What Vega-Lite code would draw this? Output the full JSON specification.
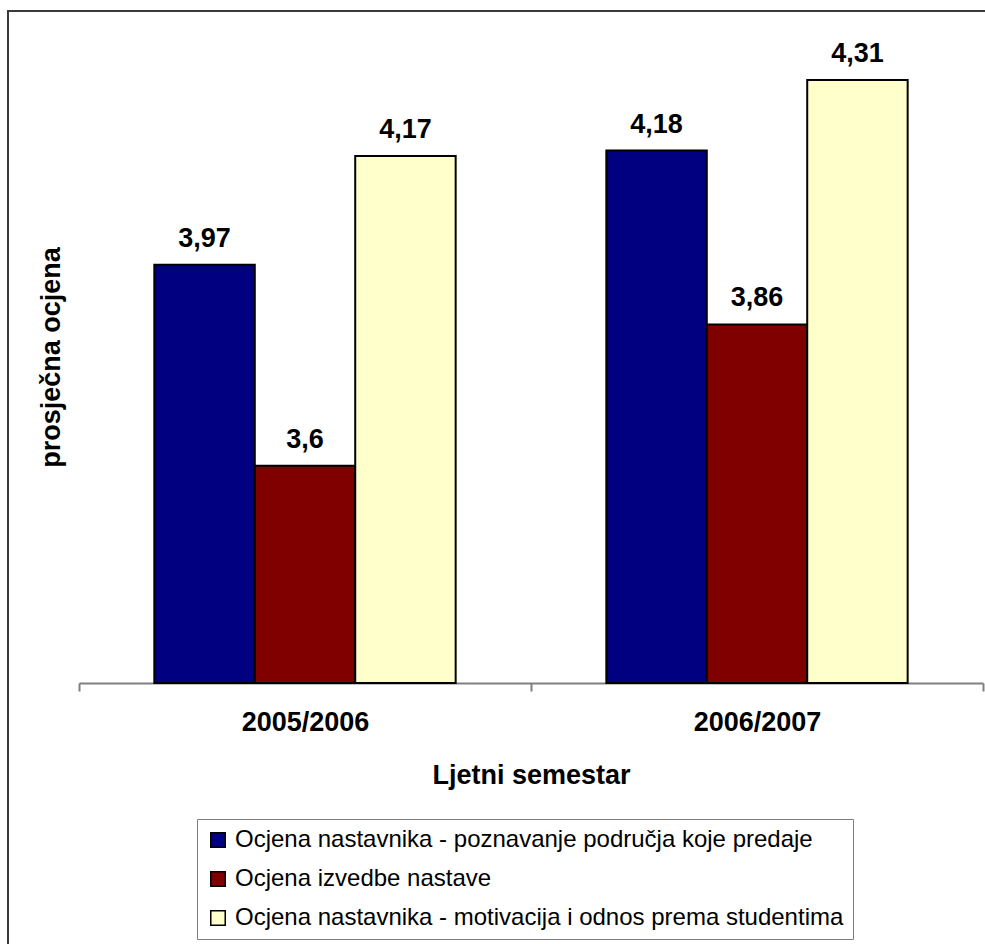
{
  "$schema": "https://vega.github.io/schema/vega-lite/v6.json",
  "width": 979,
  "height": 935,
  "autosize": "none",
  "padding": {"left": 8, "top": 11, "right": -2, "bottom": -2},
  "background": "white",
  "config": {
    "view": {"stroke": "#3a3a3a", "strokeWidth": 2},
    "font": "Liberation Sans",
    "text": {"font": "Liberation Sans"}
  },
  "data": {
    "values": [
      {"semestar": "2005/2006", "kategorija": "Ocjena nastavnika - poznavanje područja koje predaje", "ocjena": 3.97, "oznaka": "3,97"},
      {"semestar": "2005/2006", "kategorija": "Ocjena izvedbe nastave", "ocjena": 3.6, "oznaka": "3,6"},
      {"semestar": "2005/2006", "kategorija": "Ocjena nastavnika - motivacija i odnos prema studentima", "ocjena": 4.17, "oznaka": "4,17"},
      {"semestar": "2006/2007", "kategorija": "Ocjena nastavnika - poznavanje područja koje predaje", "ocjena": 4.18, "oznaka": "4,18"},
      {"semestar": "2006/2007", "kategorija": "Ocjena izvedbe nastave", "ocjena": 3.86, "oznaka": "3,86"},
      {"semestar": "2006/2007", "kategorija": "Ocjena nastavnika - motivacija i odnos prema studentima", "ocjena": 4.31, "oznaka": "4,31"}
    ]
  },
  "encoding": {
    "x": {
      "field": "semestar",
      "type": "nominal",
      "scale": {"paddingInner": 0, "paddingOuter": 0, "range": [71, 975]},
      "axis": {
        "title": "Ljetni semestar",
        "offset": -263,
        "labelAngle": 0,
        "labelFontSize": 27,
        "labelFontWeight": "bold",
        "labelColor": "black",
        "labelPadding": 18,
        "domainColor": "#808080",
        "domainWidth": 2,
        "tickColor": "#808080",
        "tickWidth": 2,
        "tickSize": 8,
        "tickBand": "extent",
        "titleFontSize": 27,
        "titleFontWeight": "bold",
        "titleColor": "black",
        "titlePadding": 27
      }
    },
    "xOffset": {
      "field": "kategorija",
      "type": "nominal",
      "sort": ["Ocjena nastavnika - poznavanje područja koje predaje", "Ocjena izvedbe nastave", "Ocjena nastavnika - motivacija i odnos prema studentima"],
      "scale": {"paddingInner": 0, "paddingOuter": 0.75}
    },
    "y": {
      "field": "ocjena",
      "type": "quantitative",
      "scale": {"domain": [3.2, 4.4], "zero": false, "nice": false, "range": [672, 20]},
      "axis": {
        "title": "prosječna ocjena",
        "offset": -62,
        "domain": false,
        "ticks": false,
        "labels": false,
        "grid": false,
        "titleFontSize": 27,
        "titleFontWeight": "bold",
        "titleColor": "black",
        "titlePadding": 5
      }
    }
  },
  "layer": [
    {
      "mark": {"type": "bar", "stroke": "black", "strokeWidth": 2},
      "encoding": {
        "y2": {"datum": 3.2},
        "color": {
          "field": "kategorija",
          "type": "nominal",
          "sort": ["Ocjena nastavnika - poznavanje područja koje predaje", "Ocjena izvedbe nastave", "Ocjena nastavnika - motivacija i odnos prema studentima"],
          "scale": {"range": ["#000080", "#800000", "#FFFFCC"]},
          "legend": {
            "title": null,
            "orient": "none",
            "legendX": 189,
            "legendY": 808,
            "direction": "vertical",
            "labelFontSize": 24,
            "labelColor": "black",
            "labelLimit": 900,
            "labelOffset": 5,
            "symbolType": "square",
            "symbolSize": 210,
            "symbolStrokeColor": "black",
            "symbolStrokeWidth": 1.5,
            "symbolOpacity": 1,
            "rowPadding": 15,
            "padding": 9,
            "strokeColor": "#808080",
            "fillColor": "white"
          }
        }
      }
    },
    {
      "mark": {"type": "text", "baseline": "alphabetic", "dy": -18, "fontSize": 27, "fontWeight": "bold", "color": "black"},
      "encoding": {"text": {"field": "oznaka"}}
    }
  ]
}
